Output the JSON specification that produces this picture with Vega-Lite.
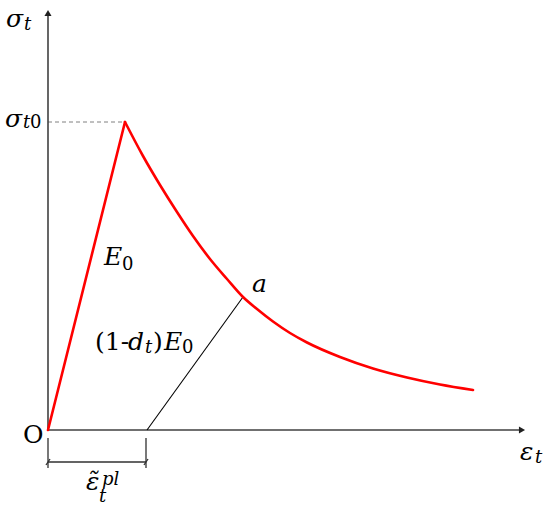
{
  "$schema": "https://vega.github.io/schema/vega-lite/v6.json",
  "autosize": {"type": "fit", "contains": "padding"},
  "width": 550,
  "height": 508,
  "padding": 0,
  "background": "white",
  "config": {"view": {"stroke": null}},
  "datasets": {
    "curve": [
      {"part": "rise", "i": 0, "x": 0, "y": 0},
      {"part": "rise", "i": 1, "x": 77, "y": 308},
      {"part": "soft", "i": 1, "x": 77, "y": 308},
      {"part": "soft", "i": 2, "x": 95, "y": 274},
      {"part": "soft", "i": 3, "x": 112, "y": 245},
      {"part": "soft", "i": 4, "x": 129, "y": 218},
      {"part": "soft", "i": 5, "x": 145, "y": 194},
      {"part": "soft", "i": 6, "x": 162, "y": 171},
      {"part": "soft", "i": 7, "x": 179, "y": 151},
      {"part": "soft", "i": 8, "x": 195, "y": 133},
      {"part": "soft", "i": 9, "x": 209, "y": 121},
      {"part": "soft", "i": 10, "x": 225, "y": 108.5},
      {"part": "soft", "i": 11, "x": 242, "y": 97},
      {"part": "soft", "i": 12, "x": 259, "y": 87.5},
      {"part": "soft", "i": 13, "x": 292, "y": 73},
      {"part": "soft", "i": 14, "x": 325, "y": 61.5},
      {"part": "soft", "i": 15, "x": 359, "y": 52.5},
      {"part": "soft", "i": 16, "x": 392, "y": 45.5},
      {"part": "soft", "i": 17, "x": 425, "y": 40}
    ],
    "segments": [
      {"kind": "axis", "x": 0, "y": 0, "x2": 0, "y2": 416},
      {"kind": "axis", "x": 0, "y": 0, "x2": 473, "y2": 0},
      {"kind": "unload", "x": 99, "y": 0, "x2": 195, "y2": 133},
      {"kind": "dash", "x": 0, "y": 308, "x2": 77, "y2": 308},
      {"kind": "dim", "x": 0, "y": -32, "x2": 98, "y2": -32},
      {"kind": "dim", "x": 0, "y": -8, "x2": 0, "y2": -38},
      {"kind": "dim", "x": 98, "y": -8, "x2": 98, "y2": -38},
      {"kind": "dim", "x": -2, "y": -35, "x2": 2, "y2": -29},
      {"kind": "dim", "x": 96, "y": -35, "x2": 100, "y2": -29}
    ],
    "arrows": [
      {"dir": "up", "x": 0, "y": 417},
      {"dir": "right", "x": 474, "y": 0}
    ],
    "labels": [
      {"role": "main-italic", "text": "σ", "x": -42, "y": 403},
      {"role": "sub-italic", "text": "t", "x": -24, "y": 400},
      {"role": "main-italic", "text": "σ", "x": -43, "y": 303},
      {"role": "sub-italic", "text": "t", "x": -25, "y": 302},
      {"role": "sub-upright", "text": "0", "x": -18, "y": 302},
      {"role": "main-italic", "text": "E", "x": 56, "y": 165},
      {"role": "sub-upright", "text": "0", "x": 74, "y": 160},
      {"role": "main-upright", "text": "(1-", "x": 47, "y": 80},
      {"role": "main-italic", "text": "d", "x": 80, "y": 80},
      {"role": "sub-italic", "text": "t", "x": 97, "y": 77},
      {"role": "main-upright", "text": ")", "x": 105, "y": 80},
      {"role": "main-italic", "text": "E", "x": 116, "y": 80},
      {"role": "sub-upright", "text": "0", "x": 134, "y": 77},
      {"role": "main-italic", "text": "a", "x": 204, "y": 138},
      {"role": "main-upright", "text": "O", "x": -25, "y": -13},
      {"role": "main-italic", "text": "ε", "x": 472, "y": -30},
      {"role": "sub-italic", "text": "t", "x": 487, "y": -33},
      {"role": "main-italic", "text": "ε̃", "x": 38, "y": -60},
      {"role": "sub-italic", "text": "t", "x": 51, "y": -72},
      {"role": "sub-italic", "text": "pl", "x": 54, "y": -55}
    ]
  },
  "encoding": {
    "x": {"field": "x", "type": "quantitative", "scale": {"domain": [-48, 502], "nice": false, "zero": false}, "axis": null},
    "y": {"field": "y", "type": "quantitative", "scale": {"domain": [-78, 430], "nice": false, "zero": false}, "axis": null}
  },
  "layer": [
    {
      "data": {"name": "segments"},
      "transform": [{"filter": "datum.kind === 'dash'"}],
      "mark": {"type": "rule", "color": "#808080", "strokeWidth": 1, "strokeDash": [4, 3]},
      "encoding": {"x2": {"field": "x2"}, "y2": {"field": "y2"}}
    },
    {
      "data": {"name": "segments"},
      "transform": [{"filter": "datum.kind === 'axis'"}],
      "mark": {"type": "rule", "color": "#404040", "strokeWidth": 1.6},
      "encoding": {"x2": {"field": "x2"}, "y2": {"field": "y2"}}
    },
    {
      "data": {"name": "segments"},
      "transform": [{"filter": "datum.kind === 'dim'"}],
      "mark": {"type": "rule", "color": "#303030", "strokeWidth": 1.3},
      "encoding": {"x2": {"field": "x2"}, "y2": {"field": "y2"}}
    },
    {
      "data": {"name": "segments"},
      "transform": [{"filter": "datum.kind === 'unload'"}],
      "mark": {"type": "rule", "color": "#000000", "strokeWidth": 1.1},
      "encoding": {"x2": {"field": "x2"}, "y2": {"field": "y2"}}
    },
    {
      "data": {"name": "curve"},
      "transform": [{"filter": "datum.part === 'rise'"}],
      "mark": {"type": "line", "color": "#FF0000", "strokeWidth": 2.6, "interpolate": "linear", "strokeCap": "round"},
      "encoding": {"order": {"field": "i", "type": "quantitative"}}
    },
    {
      "data": {"name": "curve"},
      "transform": [{"filter": "datum.part === 'soft'"}],
      "mark": {"type": "line", "color": "#FF0000", "strokeWidth": 2.6, "interpolate": "monotone", "strokeCap": "round"},
      "encoding": {"order": {"field": "i", "type": "quantitative"}}
    },
    {
      "data": {"name": "arrows"},
      "transform": [{"filter": "datum.dir === 'up'"}],
      "mark": {"type": "point", "shape": "triangle-up", "filled": true, "color": "#202020", "size": 50, "opacity": 1},
      "encoding": {}
    },
    {
      "data": {"name": "arrows"},
      "transform": [{"filter": "datum.dir === 'right'"}],
      "mark": {"type": "point", "shape": "triangle-right", "filled": true, "color": "#202020", "size": 50, "opacity": 1},
      "encoding": {}
    },
    {
      "data": {"name": "labels"},
      "transform": [{"filter": "datum.role === 'main-italic'"}],
      "mark": {"type": "text", "align": "left", "baseline": "alphabetic", "font": "DejaVu Serif", "fontStyle": "italic", "fontSize": 25, "color": "#000"},
      "encoding": {"text": {"field": "text"}}
    },
    {
      "data": {"name": "labels"},
      "transform": [{"filter": "datum.role === 'main-upright'"}],
      "mark": {"type": "text", "align": "left", "baseline": "alphabetic", "font": "DejaVu Serif", "fontSize": 25, "color": "#000"},
      "encoding": {"text": {"field": "text"}}
    },
    {
      "data": {"name": "labels"},
      "transform": [{"filter": "datum.role === 'sub-italic'"}],
      "mark": {"type": "text", "align": "left", "baseline": "alphabetic", "font": "DejaVu Serif", "fontStyle": "italic", "fontSize": 18, "color": "#000"},
      "encoding": {"text": {"field": "text"}}
    },
    {
      "data": {"name": "labels"},
      "transform": [{"filter": "datum.role === 'sub-upright'"}],
      "mark": {"type": "text", "align": "left", "baseline": "alphabetic", "font": "DejaVu Serif", "fontSize": 18, "color": "#000"},
      "encoding": {"text": {"field": "text"}}
    }
  ]
}
